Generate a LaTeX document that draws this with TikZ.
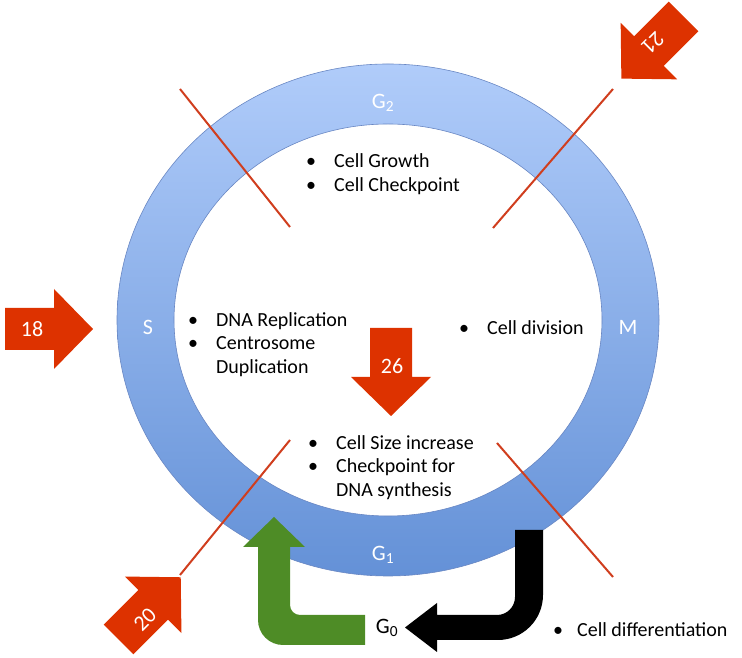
\documentclass[tikz,border=0pt]{standalone}
\usepackage{fontspec}
\setmainfont{Carlito}
\definecolor{arrowred}{RGB}{221,50,0}
\definecolor{linered}{RGB}{208,62,30}
\definecolor{ringtop}{RGB}{176,204,250}
\definecolor{ringbot}{RGB}{100,145,215}
\definecolor{ringedge}{RGB}{105,135,195}
\definecolor{gzgreen}{RGB}{78,140,38}
\tikzset{
  redblock/.pic={\fill[arrowred] (0,-21) -- (49,-21) -- (49,-40) -- (88,0) -- (49,40) -- (49,21) -- (0,21) -- cycle;},
  numlabel/.style={text=white, font=\fontsize{22}{26}\selectfont, inner sep=0pt},
  ringlabel/.style={text=white, font=\fontsize{22}{26}\selectfont, inner sep=0pt},
  listtext/.style={font=\fontsize{20}{23.5}\selectfont, inner sep=0pt, anchor=west, align=left},
  phaseline/.style={linered, line width=2pt},
}
\begin{document}
\begin{tikzpicture}[x=1pt,y=1pt]
\useasboundingbox (0,0) rectangle (742,658);
% ring
\shade[top color=ringtop, bottom color=ringbot, even odd rule, draw=ringedge, line width=0.6pt]
  (388,338) ellipse [x radius=271pt, y radius=256pt]
  (388,338) ellipse [x radius=214pt, y radius=196pt];
\node[ringlabel] (g2) at (383,555) {G\textsubscript{2}};
\node[ringlabel] (g1) at (383,103) {G\textsubscript{1}};
\node[ringlabel] (s) at (148,331) {S};
\node[ringlabel] (m) at (628,331) {M};
% checkpoint lines
\coordinate (l1a) at (180,569); \coordinate (l1b) at (290,431);
\coordinate (l2a) at (613,569); \coordinate (l2b) at (493,430);
\coordinate (l3a) at (290,218); \coordinate (l3b) at (180,83);
\coordinate (l4a) at (497,215); \coordinate (l4b) at (613,81);
\draw[phaseline] (l1a) -- (l1b);
\draw[phaseline] (l2a) -- (l2b);
\draw[phaseline] (l3a) -- (l3b);
\draw[phaseline] (l4a) -- (l4b);
% red block arrows
\pic at (5,329) {redblock};
\node[numlabel] (n18) at (32,329) {18};
\pic[rotate=-90] at (391,330) {redblock};
\node[numlabel] (n26) at (392,292) {26};
\pic[rotate=225] at (683.6,641.6) {redblock};
\node[numlabel, rotate=225] (n21) at (653,615) {21};
\pic[rotate=45] at (118.5,18.5) {redblock};
\node[numlabel, rotate=45] (n20) at (145,38) {20};
% green arrow G0 -> G1
\fill[gzgreen] (365,13) -- (283,13) arc[start angle=270, end angle=180, radius=25]
  -- (258,111) -- (243,111) -- (274,141) -- (305,111) -- (290,111) -- (290,53)
  arc[start angle=180, end angle=270, radius=10] -- (365,43) -- cycle;
% black arrow G1 -> G0
\fill[black] (515,128) -- (543,128) -- (543,63) arc[start angle=0, end angle=-90, radius=45]
  -- (437,18) -- (437,6) -- (405,30.5) -- (437,55) -- (437,43) -- (497,43)
  arc[start angle=-90, end angle=0, radius=18] -- cycle;
\node[font=\fontsize{22}{26}\selectfont, inner sep=0pt] (g0) at (387,30) {G\textsubscript{0}};
% lists
\node[listtext] (g2list) at (306,483) {\begin{tabular}{@{}l@{\hspace{18pt}}l@{}}\textbullet & Cell Growth\\ \textbullet & Cell Checkpoint\end{tabular}};
\node[listtext] (slist) at (188,313) {\begin{tabular}{@{}l@{\hspace{18pt}}l@{}}\textbullet & DNA Replication\\ \textbullet & Centrosome\\ & Duplication\end{tabular}};
\node[listtext] (mlist) at (459,328) {\begin{tabular}{@{}l@{\hspace{18pt}}l@{}}\textbullet & Cell division\end{tabular}};
\node[listtext] (g1list) at (308,190) {\begin{tabular}{@{}l@{\hspace{18pt}}l@{}}\textbullet & Cell Size increase\\ \textbullet & Checkpoint for\\ & DNA synthesis\end{tabular}};
\node[listtext] (g0list) at (553,26) {\begin{tabular}{@{}l@{\hspace{14pt}}l@{}}\textbullet & Cell differentiation\end{tabular}};
\end{tikzpicture}
\end{document}
